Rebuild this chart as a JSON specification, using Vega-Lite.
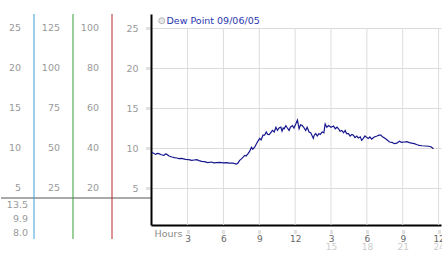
{
  "$schema": "https://vega.github.io/schema/vega-lite/v6.json",
  "padding": {"left": 0, "top": 13, "right": 0, "bottom": 0},
  "spacing": 0,
  "bounds": "flush",
  "resolve": {"scale": {"color": "independent", "fill": "independent"}, "legend": {"color": "independent", "fill": "independent"}},
  "config": {"view": {"stroke": null}, "font": "DejaVu Sans", "background": "white"},
  "hconcat": [
    {
      "width": 150,
      "height": 225,
      "resolve": {"scale": {"y": "independent"}},
      "layer": [
        {
          "data": {"values": [{"sep": 3.75}]},
          "mark": {"type": "rule", "color": "#aaaaaa", "strokeWidth": 2},
          "encoding": {
            "y": {"field": "sep", "type": "quantitative", "scale": {"domain": [-1.375, 26.75]}, "axis": null}
          }
        },
        {
          "data": {"values": [{"col": 0}, {"col": 1}, {"col": 2}]},
          "mark": {"type": "rule", "xOffset": 13, "strokeWidth": 1},
          "encoding": {
            "x": {"field": "col", "type": "quantitative", "scale": {"domain": [-0.513, 3.333]}, "axis": null},
            "color": {"field": "col", "type": "nominal", "scale": {"domain": [0, 1, 2], "range": ["#3da1d6", "#3a9e3a", "#b52a2a"]}, "legend": null}
          }
        },
        {
          "data": {"values": [
            {"col": 0, "v": 25, "label": "25"}, {"col": 0, "v": 20, "label": "20"}, {"col": 0, "v": 15, "label": "15"}, {"col": 0, "v": 10, "label": "10"}, {"col": 0, "v": 5, "label": "5"},
            {"col": 1, "v": 25, "label": "125"}, {"col": 1, "v": 20, "label": "100"}, {"col": 1, "v": 15, "label": "75"}, {"col": 1, "v": 10, "label": "50"}, {"col": 1, "v": 5, "label": "25"},
            {"col": 2, "v": 25, "label": "100"}, {"col": 2, "v": 20, "label": "80"}, {"col": 2, "v": 15, "label": "60"}, {"col": 2, "v": 10, "label": "40"}, {"col": 2, "v": 5, "label": "20"}
          ]},
          "mark": {"type": "text", "align": "right", "baseline": "middle", "fontSize": 9.5, "color": "#999999"},
          "encoding": {
            "x": {"field": "col", "type": "quantitative", "scale": {"domain": [-0.513, 3.333]}, "axis": null},
            "y": {"field": "v", "type": "quantitative", "scale": {"domain": [-1.375, 26.75]}, "axis": null},
            "text": {"field": "label"}
          }
        },
        {
          "data": {"values": [
            {"col": 0, "row": 1, "label": "13.5"}, {"col": 0, "row": 2, "label": "9.9"}, {"col": 0, "row": 3, "label": "8.0"}
          ]},
          "mark": {"type": "text", "align": "right", "baseline": "middle", "fontSize": 9.5, "color": "#999999", "dx": 7},
          "encoding": {
            "x": {"field": "col", "type": "quantitative", "scale": {"domain": [-0.513, 3.333]}, "axis": null},
            "y": {"field": "row", "type": "quantitative", "scale": {"domain": [-12.643, 3.429], "reverse": true}, "axis": null},
            "text": {"field": "label"}
          }
        }
      ]
    },
    {
      "width": 290,
      "height": 211,
      "resolve": {"axis": {"x": "independent"}},
      "layer": [
        {
          "data": {"values": [{"h": 3}, {"h": 6}, {"h": 9}, {"h": 12}, {"h": 15}, {"h": 18}, {"h": 21}, {"h": 24}]},
          "mark": {"type": "rule", "color": "#dcdcdc", "strokeWidth": 1},
          "encoding": {
            "x": {"field": "h", "type": "quantitative", "scale": {"domain": [-0.06, 24.2]},
              "axis": {"orient": "bottom", "offset": 5, "domain": false, "grid": false, "ticks": true, "tickSize": 4, "tickWidth": 3, "tickColor": "#c4c4c4", "tickDash": [1, 1],
                "values": [3, 6, 9, 12, 15, 18, 21, 24], "labelExpr": "datum.value > 12 ? datum.label : ''", "labelColor": "#cccccc", "labelFontSize": 9, "labelPadding": 8, "labelFlush": false, "labelOverlap": false, "title": null}},
            "y": {"datum": 25, "type": "quantitative", "scale": {"domain": [0.375, 26.75]}},
            "y2": {"datum": 0.375}
          }
        },
        {
          "data": {"values": [
            {"h": 0.0, "v": 9.46}, {"h": 0.15, "v": 9.35}, {"h": 0.33, "v": 9.2}, {"h": 0.45, "v": 9.32}, {"h": 0.6, "v": 9.29}, {"h": 0.8, "v": 9.15},
            {"h": 1.02, "v": 9.08}, {"h": 1.15, "v": 9.25}, {"h": 1.27, "v": 9.2}, {"h": 1.45, "v": 9.0}, {"h": 1.69, "v": 8.87}, {"h": 1.9, "v": 8.8},
            {"h": 2.1, "v": 8.75}, {"h": 2.27, "v": 8.67}, {"h": 2.5, "v": 8.7}, {"h": 2.83, "v": 8.58}, {"h": 3.1, "v": 8.55}, {"h": 3.35, "v": 8.46},
            {"h": 3.55, "v": 8.5}, {"h": 3.77, "v": 8.54}, {"h": 3.95, "v": 8.42}, {"h": 4.18, "v": 8.33}, {"h": 4.4, "v": 8.3}, {"h": 4.68, "v": 8.17},
            {"h": 5.0, "v": 8.25}, {"h": 5.2, "v": 8.15}, {"h": 5.43, "v": 8.17}, {"h": 5.7, "v": 8.2}, {"h": 6.0, "v": 8.15}, {"h": 6.26, "v": 8.17},
            {"h": 6.5, "v": 8.12}, {"h": 6.8, "v": 8.1}, {"h": 7.09, "v": 8.0}, {"h": 7.2, "v": 8.1}, {"h": 7.36, "v": 8.46}, {"h": 7.55, "v": 8.7},
            {"h": 7.78, "v": 9.08}, {"h": 7.9, "v": 9.0}, {"h": 8.06, "v": 9.29}, {"h": 8.2, "v": 9.6}, {"h": 8.34, "v": 10.1}, {"h": 8.45, "v": 9.85},
            {"h": 8.61, "v": 10.1}, {"h": 8.75, "v": 10.5}, {"h": 8.9, "v": 10.9}, {"h": 9.03, "v": 11.2}, {"h": 9.15, "v": 11.0}, {"h": 9.31, "v": 11.6},
            {"h": 9.44, "v": 11.6}, {"h": 9.58, "v": 12.0}, {"h": 9.7, "v": 11.7}, {"h": 9.83, "v": 11.67}, {"h": 9.95, "v": 11.9}, {"h": 10.1, "v": 12.2},
            {"h": 10.25, "v": 12.0}, {"h": 10.39, "v": 12.6}, {"h": 10.52, "v": 12.2}, {"h": 10.65, "v": 12.5}, {"h": 10.8, "v": 12.6}, {"h": 10.9, "v": 12.1},
            {"h": 11.0, "v": 12.5}, {"h": 11.08, "v": 12.4}, {"h": 11.22, "v": 12.8}, {"h": 11.35, "v": 12.5}, {"h": 11.49, "v": 12.2}, {"h": 11.6, "v": 12.6},
            {"h": 11.77, "v": 12.8}, {"h": 11.9, "v": 12.5}, {"h": 12.05, "v": 13.0}, {"h": 12.19, "v": 13.5}, {"h": 12.33, "v": 12.4}, {"h": 12.45, "v": 12.9},
            {"h": 12.6, "v": 12.8}, {"h": 12.75, "v": 12.5}, {"h": 12.88, "v": 12.2}, {"h": 13.0, "v": 12.6}, {"h": 13.16, "v": 12.0}, {"h": 13.3, "v": 11.9},
            {"h": 13.52, "v": 11.2}, {"h": 13.6, "v": 11.6}, {"h": 13.72, "v": 11.8}, {"h": 13.85, "v": 11.5}, {"h": 13.99, "v": 11.8}, {"h": 14.1, "v": 11.7},
            {"h": 14.26, "v": 12.0}, {"h": 14.4, "v": 11.9}, {"h": 14.51, "v": 13.0}, {"h": 14.65, "v": 12.6}, {"h": 14.8, "v": 12.8}, {"h": 15.0, "v": 12.6},
            {"h": 15.21, "v": 12.75}, {"h": 15.35, "v": 12.4}, {"h": 15.5, "v": 12.6}, {"h": 15.63, "v": 12.4}, {"h": 15.75, "v": 12.1}, {"h": 15.9, "v": 12.2},
            {"h": 16.05, "v": 11.9}, {"h": 16.18, "v": 12.2}, {"h": 16.3, "v": 11.8}, {"h": 16.46, "v": 11.8}, {"h": 16.6, "v": 11.5}, {"h": 16.75, "v": 11.7},
            {"h": 16.87, "v": 11.6}, {"h": 17.0, "v": 11.3}, {"h": 17.15, "v": 11.5}, {"h": 17.29, "v": 11.25}, {"h": 17.45, "v": 11.4}, {"h": 17.56, "v": 10.95},
            {"h": 17.7, "v": 11.2}, {"h": 17.84, "v": 11.5}, {"h": 18.0, "v": 11.3}, {"h": 18.12, "v": 11.2}, {"h": 18.25, "v": 11.4}, {"h": 18.4, "v": 11.1},
            {"h": 18.55, "v": 11.3}, {"h": 18.67, "v": 11.4}, {"h": 18.85, "v": 11.5}, {"h": 19.0, "v": 11.6}, {"h": 19.17, "v": 11.6}, {"h": 19.3, "v": 11.4},
            {"h": 19.48, "v": 11.25}, {"h": 19.7, "v": 11.0}, {"h": 19.89, "v": 10.75}, {"h": 20.1, "v": 10.7}, {"h": 20.31, "v": 10.54}, {"h": 20.5, "v": 10.6},
            {"h": 20.72, "v": 10.84}, {"h": 20.9, "v": 10.7}, {"h": 21.14, "v": 10.75}, {"h": 21.35, "v": 10.8}, {"h": 21.55, "v": 10.67}, {"h": 21.75, "v": 10.6},
            {"h": 21.97, "v": 10.54}, {"h": 22.2, "v": 10.4}, {"h": 22.39, "v": 10.33}, {"h": 22.6, "v": 10.28}, {"h": 22.94, "v": 10.25}, {"h": 23.15, "v": 10.22},
            {"h": 23.36, "v": 10.16}, {"h": 23.57, "v": 9.9}
          ]},
          "mark": {"type": "line", "strokeWidth": 1.2, "interpolate": "linear", "color": "#16168e"},
          "encoding": {
            "x": {"field": "h", "type": "quantitative", "scale": {"domain": [-0.06, 24.2]},
              "axis": {"orient": "bottom", "domainColor": "#000000", "domainWidth": 2, "ticks": false, "grid": false,
                "values": [3, 6, 9, 12, 15, 18, 21, 24], "labelExpr": "datum.value > 12 ? format(datum.value - 12, 'd') : datum.label",
                "labelColor": "#666666", "labelFontSize": 9, "labelPadding": 9, "labelFlush": false, "labelOverlap": false,
                "title": "Hours", "titleAnchor": "start", "titleAlign": "left", "titleAngle": 0, "titleBaseline": "middle", "titleX": 3, "titleY": 8,
                "titleFontSize": 9.5, "titleFontWeight": "normal", "titleColor": "#888888"}},
            "y": {"field": "v", "type": "quantitative", "scale": {"domain": [0.375, 26.75]},
              "axis": {"values": [5, 10, 15, 20, 25], "grid": true, "gridColor": "#dcdcdc", "domainColor": "#000000", "domainWidth": 2,
                "ticks": true, "tickSize": 5, "tickWidth": 3, "tickColor": "#c4c4c4", "tickDash": [1, 1],
                "labelColor": "#999999", "labelFontSize": 9.5, "labelPadding": 8, "title": null}}
          }
        },
        {
          "data": {"values": []},
          "mark": {"type": "point", "filled": true, "shape": "circle", "size": 36, "stroke": "#999999", "strokeWidth": 1},
          "encoding": {
            "x": {"field": "h", "type": "quantitative", "scale": {"domain": [-0.06, 24.2]}, "axis": null},
            "y": {"field": "v", "type": "quantitative", "scale": {"domain": [0.375, 26.75]},
              "axis": {"values": [5, 10, 15, 20, 25], "grid": true, "gridColor": "#dcdcdc", "domainColor": "#000000", "domainWidth": 2,
                "ticks": true, "tickSize": 5, "tickWidth": 3, "tickColor": "#c4c4c4", "tickDash": [1, 1],
                "labelColor": "#999999", "labelFontSize": 9.5, "labelPadding": 8, "title": null}},
            "fill": {"datum": "Dew Point 09/06/05", "type": "nominal", "scale": {"range": ["#dddddd"]},
              "legend": {"orient": "none", "legendX": 6, "legendY": 2, "title": null, "padding": 0, "symbolType": "circle", "symbolSize": 36,
                "symbolStrokeColor": "#999999", "symbolStrokeWidth": 1,
                "labelFontSize": 9.5, "labelColor": "#2a36b0", "labelOffset": 0}}
          }
        }
      ]
    }
  ]
}
